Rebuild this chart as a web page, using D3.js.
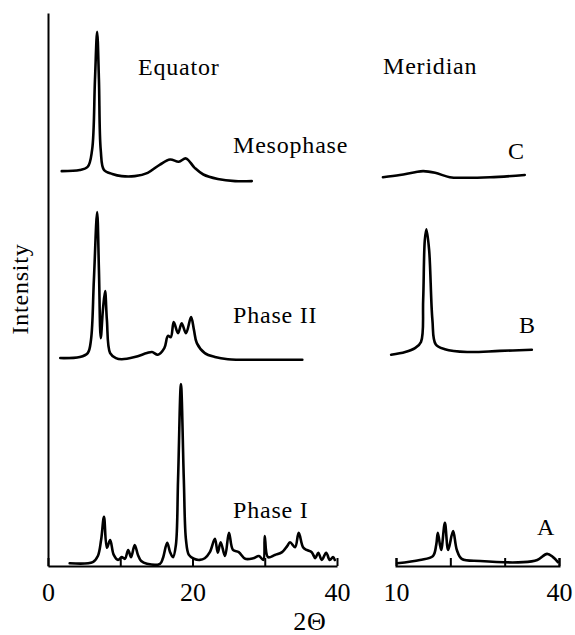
<!DOCTYPE html>
<html>
<head>
<meta charset="utf-8">
<script src="https://cdn.jsdelivr.net/npm/d3@7"></script>
<style>
  body { margin: 0; background: #fff; }
  svg { display: block; font-family: "Liberation Serif", "Times New Roman", serif; }
  .trace { fill: none; stroke: #000; stroke-width: 2.6; stroke-linejoin: round; stroke-linecap: round; }
  .axis path, .axis line { stroke: #000; stroke-width: 2; }
  .axis text { font-family: "Liberation Serif", serif; font-size: 26px; fill: #000; }
  .lbl { font-size: 24px; letter-spacing: 0.8px; fill: #000; }
</style>
</head>
<body>
<div id="chart"></div>
<script>
// --- data: [2theta, intensity above the row baseline] ---
const phaseI = [
  [3.0, 0.5], [6.2, 0.7], [6.9, 1.8], [7.35, 4.7], [7.75, 8.9], [8.15, 3.3], [8.6, 4.7],
  [9.1, 2.0], [9.7, 1.1], [10.2, 1.6], [10.65, 1.3], [11.1, 2.9], [11.5, 1.6], [12.0, 3.8],
  [12.45, 2.0], [12.9, 0.9], [13.7, 0.4], [15.5, 0.4], [15.9, 1.4], [16.5, 4.2], [16.9, 2.5],
  [17.3, 1.6], [17.7, 3.8], [18.0, 15.6], [18.4, 32.9], [18.8, 15.6], [19.1, 4.7], [19.5, 2.0],
  [20.2, 1.3], [21.0, 1.1], [21.7, 1.4], [22.4, 2.5], [23.1, 4.9], [23.5, 2.4], [23.9, 4.3],
  [24.5, 1.8], [25.05, 6.0], [25.6, 2.9], [26.4, 2.5], [27.3, 1.3], [28.4, 1.4], [29.2, 1.8],
  [29.8, 1.1], [30.0, 5.4], [30.45, 1.6], [31.4, 2.0], [32.4, 2.5], [33.1, 3.6], [33.5, 4.3],
  [34.2, 3.4], [34.7, 6.0], [35.3, 3.4], [35.8, 2.9], [36.5, 2.5], [37.0, 1.4], [37.4, 2.4],
  [37.9, 1.1], [38.5, 2.4], [39.0, 1.1], [39.45, 1.6], [39.7, 1.1]
];

const phaseII = [
  [1.7, 0.6], [4.4, 0.8], [5.5, 1.5], [5.95, 3.9], [6.35, 14.7], [6.8, 27.0], [7.05, 16.5],
  [7.3, 4.2], [7.6, 9.3], [7.9, 12.7], [8.15, 7.5], [8.6, 1.5], [9.4, 0.6], [10.2, 0.4],
  [12.0, 0.8], [13.7, 1.5], [14.4, 1.7], [15.2, 1.2], [16.1, 2.4], [16.6, 4.6], [17.0, 4.4],
  [17.4, 7.1], [18.0, 5.1], [18.5, 6.9], [19.1, 5.1], [19.8, 8.0], [20.2, 5.7], [20.6, 3.3],
  [21.7, 1.5], [23.1, 0.8], [24.9, 0.4], [29.3, 0.3], [35.2, 0.3]
];

const mesophase = [
  [1.9, 1.4], [4.4, 1.6], [5.5, 2.2], [6.1, 5.2], [6.5, 17.9], [6.8, 26.6], [7.05, 17.9],
  [7.3, 5.2], [7.75, 1.6], [8.9, 0.9], [10.2, 0.5], [12.0, 0.5], [13.8, 1.1], [15.5, 2.6],
  [16.9, 3.5], [18.1, 3.1], [19.1, 3.7], [20.3, 2.0], [21.5, 0.8], [23.5, 0.0], [25.9, -0.4],
  [28.2, -0.4]
];

const meridianA = [
  [10.2, 0.5], [14.4, 1.1], [16.8, 1.8], [17.4, 3.8], [17.7, 6.0], [18.3, 2.9], [19.0, 7.8],
  [19.6, 2.9], [20.5, 6.3], [21.2, 2.9], [22.1, 1.3], [25.5, 0.9], [33.4, 0.7], [36.0, 1.1],
  [37.8, 2.2], [38.9, 1.6], [39.8, 0.7]
];

const meridianB = [
  [9.1, 1.2], [11.7, 1.7], [13.5, 2.4], [14.6, 3.5], [15.0, 11.1], [15.3, 21.9], [15.6, 23.9],
  [16.1, 20.1], [16.7, 7.5], [17.3, 3.1], [19.0, 2.2], [23.1, 1.7], [29.1, 1.9], [35.0, 2.1]
];

const meridianC = [
  [7.6, 0.3], [10.7, 0.7], [13.5, 1.2], [15.0, 1.4], [17.2, 1.1], [19.9, 0.3], [22.3, 0.2],
  [27.3, 0.3], [33.7, 0.7]
];

// vertical stacking offset of each row (intensity units)
const rowOffsets = [0, 37, 70];
const rowNames = ["Phase I", "Phase II", "Mesophase"];
const meridianNames = ["A", "B", "C"];

const equatorTicks = [0, 10, 20, 30, 40];
const equatorLabels = [0, 20, 40];
const meridianTicks = [10, 20, 30, 40];
const meridianLabels = [10, 40];

// --- layout ---
const width = 575;
const height = 635;

const svg = d3.select("#chart")
  .append("svg")
  .attr("width", width)
  .attr("height", height);

const xEq = d3.scaleLinear().domain([0, 40]).range([48, 337]);
const xMer = d3.scaleLinear().domain([10, 40]).range([396, 559]);
const y = d3.scaleLinear().domain([0, 100]).range([566, 13]);

const lineFor = (xScale, offset) => d3.line()
  .x((d) => xScale(d[0]))
  .y((d) => y(d[1] + offset))
  .curve(d3.curveCatmullRom.alpha(0.5));

// axes
svg.append("g")
  .attr("class", "axis")
  .attr("transform", `translate(48,0)`)
  .call(d3.axisLeft(y).tickValues([]).tickSizeOuter(0));

svg.append("g")
  .attr("class", "axis")
  .attr("transform", `translate(0,${y(0)})`)
  .call(d3.axisBottom(xEq)
    .tickValues(equatorTicks)
    .tickSizeInner(-8)
    .tickSizeOuter(0)
    .tickPadding(17)
    .tickFormat((d) => (equatorLabels.includes(d) ? d : "")));

svg.append("g")
  .attr("class", "axis")
  .attr("transform", `translate(0,${y(0)})`)
  .call(d3.axisBottom(xMer)
    .tickValues(meridianTicks)
    .tickSizeInner(-8)
    .tickSizeOuter(-8)
    .tickPadding(17)
    .tickFormat((d) => (meridianLabels.includes(d) ? d : "")));

// traces
const equator = [phaseI, phaseII, mesophase];
const meridian = [meridianA, meridianB, meridianC];

equator.forEach((data, i) => {
  svg.append("path")
    .attr("class", "trace")
    .attr("d", lineFor(xEq, rowOffsets[i])(data));
});

meridian.forEach((data, i) => {
  svg.append("path")
    .attr("class", "trace")
    .attr("d", lineFor(xMer, rowOffsets[i])(data));
});

// labels
const rowLabelY = [518, 323, 153];
rowNames.forEach((name, i) => {
  svg.append("text").attr("class", "lbl")
    .attr("x", 233).attr("y", rowLabelY[i]).text(name);
});

const merLabelX = [537, 519, 508];
const merLabelY = [535, 333, 159];
meridianNames.forEach((name, i) => {
  svg.append("text").attr("class", "lbl")
    .attr("x", merLabelX[i]).attr("y", merLabelY[i]).text(name);
});

svg.append("text").attr("class", "lbl").attr("x", 138).attr("y", 75).text("Equator");
svg.append("text").attr("class", "lbl").attr("x", 383).attr("y", 74).text("Meridian");

svg.append("text").attr("class", "lbl")
  .attr("transform", "translate(28,289) rotate(-90)")
  .attr("text-anchor", "middle")
  .text("Intensity");

svg.append("text")
  .attr("class", "lbl")
  .style("font-size", "26px")
  .attr("x", 310).attr("y", 630)
  .attr("text-anchor", "middle")
  .text("2Θ");
</script>
</body>
</html>
